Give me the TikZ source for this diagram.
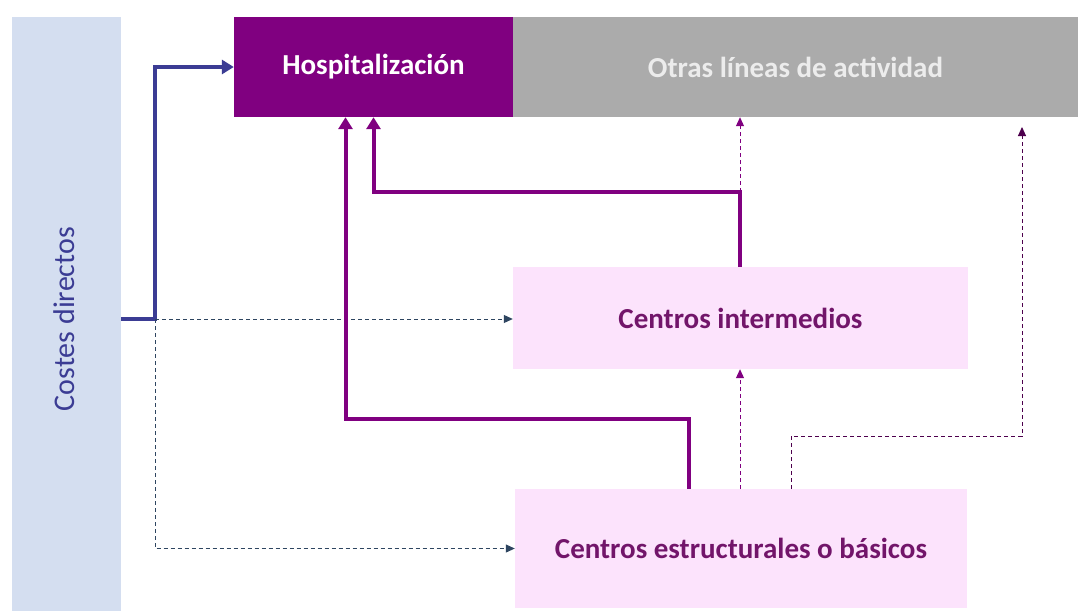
\documentclass[tikz,border=0pt]{standalone}
\usepackage{fontspec}
\setmainfont{Carlito}
\usetikzlibrary{arrows.meta,positioning}
\definecolor{morado}{HTML}{800080}
\definecolor{gris}{HTML}{ABABAB}
\definecolor{rosa}{HTML}{FCE3FC}
\definecolor{azulclaro}{HTML}{D4DEF0}
\definecolor{azul}{HTML}{3B3C94}
\definecolor{pizarra}{HTML}{2E4560}
\definecolor{textomorado}{HTML}{72156A}

\begin{document}
\begin{tikzpicture}[x=1pt,y=-1pt,
  caja/.style={inner sep=0pt, font=\fontsize{29}{34}\selectfont\bfseries},
  gruesa/.style={morado, line width=4pt, -{Triangle[length=12pt,width=14pt]}},
  punteada/.style={line width=1pt, dash pattern=on 4pt off 3pt, -{Triangle[length=9pt,width=8pt]}}]
\useasboundingbox[fill=white] (0,0) rectangle (1078,611);

% Cajas
\node[caja, fill=azulclaro, minimum width=109pt, minimum height=594pt] (costes) at (66.5,314) {};
\node[inner sep=0pt, font=\fontsize{30}{34}\selectfont, azul, rotate=90] (tcostes) at (64,319) {Costes directos};
\node[caja, fill=morado, text=white, minimum width=279pt, minimum height=100pt] (hosp) at (373.5,67) {Hospitalización};
\node[caja, fill=gris, text=gray!15, minimum width=565pt, minimum height=100pt] (otras) at (795.5,67) {Otras líneas de actividad};
\node[caja, fill=rosa, text=textomorado, minimum width=455pt, minimum height=102pt] (inter) at (740.5,318) {Centros intermedios};
\node[caja, fill=rosa, text=textomorado, minimum width=452pt, minimum height=119pt] (estr) at (741,548.5) {Centros estructurales o básicos};

% Puntos de giro
\coordinate (cd) at (121,319);
\coordinate (sp) at (155,319);
\coordinate (c1) at (740,192);
\coordinate (c2) at (689,419);
\coordinate (c3) at (791,436);
\coordinate (c4) at (1022,127);

% Costes directos
\draw[azul, line width=4pt, -{Triangle[length=12pt,width=14pt]}] (cd) -- (sp) |- (hosp.west);
\draw[punteada, pizarra] (sp) -- (sp -| inter.west);
\draw[punteada, pizarra] (sp) |- (estr.west);

% Repartos
\draw[gruesa] (inter.north -| c1) -- (c1) -| (hosp.south);
\draw[gruesa] (estr.north -| c2) -- (c2) -| ([xshift=-28pt]hosp.south);
\draw[punteada, morado] (c1) -- (c1 |- otras.south);
\draw[punteada, morado] (estr.north -| c1) -- (c1 |- inter.south);
\draw[punteada, morado!60!black] (estr.north -| c3) -- (c3) -| (c4);
\end{tikzpicture}
\end{document}
